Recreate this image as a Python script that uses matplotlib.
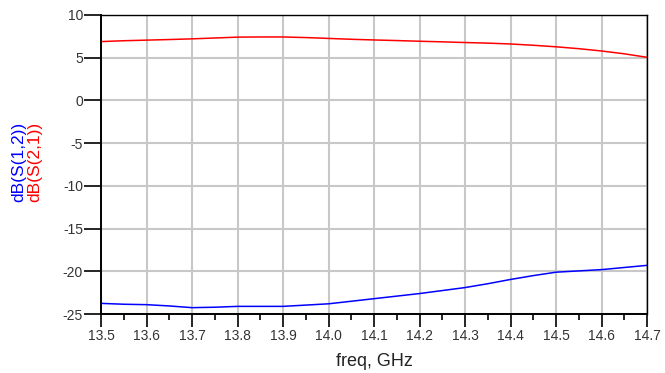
import matplotlib
matplotlib.use("Agg")
import matplotlib.pyplot as plt
from matplotlib.ticker import MultipleLocator

plt.rcParams['font.family'] = ['Liberation Sans', 'DejaVu Sans']
plt.rcParams['axes.unicode_minus'] = False

freq = [13.5, 13.55, 13.6, 13.65, 13.7, 13.75, 13.8, 13.85, 13.9, 13.95, 14.0,
        14.05, 14.1, 14.15, 14.2, 14.25, 14.3, 14.35, 14.4, 14.45, 14.5,
        14.55, 14.6, 14.65, 14.7]
s21 = [6.88, 6.98, 7.05, 7.12, 7.2, 7.3, 7.4, 7.42, 7.42, 7.35, 7.25,
       7.15, 7.07, 7.0, 6.92, 6.85, 6.77, 6.7, 6.6, 6.45, 6.27,
       6.05, 5.78, 5.45, 5.04]
s12 = [-23.75, -23.85, -23.9, -24.05, -24.25, -24.2, -24.1, -24.1, -24.1, -23.95, -23.8,
       -23.5, -23.2, -22.9, -22.6, -22.25, -21.9, -21.45, -20.95, -20.5, -20.1,
       -19.95, -19.8, -19.55, -19.3]

fig = plt.figure(figsize=(6.65, 3.73), dpi=100)
ax = fig.add_axes([0.1519, 0.158, 0.8211, 0.802])

ax.plot(freq, s21, color='#ff0000', lw=1.1)
ax.plot(freq, s12, color='#0000ff', lw=1.1)

ax.set_xlim(13.5, 14.7)
ax.set_ylim(-25, 10)
ax.xaxis.set_major_locator(MultipleLocator(0.1))
ax.xaxis.set_minor_locator(MultipleLocator(0.05))
ax.yaxis.set_major_locator(MultipleLocator(5))
ax.set_xticklabels([f"{v:.1f}" for v in ax.get_xticks()])
ax.grid(True, which='major', color='#c8c8c8', lw=1.5)
ax.set_axisbelow(True)

ax.tick_params(axis='x', which='major', direction='out', length=9, width=1.2,
               labelsize=10, pad=2, labelcolor='#333333')
ax.tick_params(axis='y', which='major', direction='out', length=12, width=1.2,
               labelsize=10, pad=1, labelcolor='#333333')
ax.tick_params(axis='x', which='minor', direction='out', length=4, width=1.2)
for side in ['left', 'bottom']:
    ax.spines[side].set_linewidth(1.4)
for side in ['top', 'right']:
    ax.spines[side].set_linewidth(1.0)

fig.text(0.5624, 1 - 362 / 373, 'freq, GHz', ha='center', va='center',
         fontsize=13, color='#222222')

fig.text(19 / 665, 0.566, 'dB(S(1,2))', color='#0000ff', rotation=90,
         ha='center', va='center', fontsize=12.5)
fig.text(35 / 665, 0.566, 'dB(S(2,1))', color='#ff0000', rotation=90,
         ha='center', va='center', fontsize=12.5)

fig.savefig('out.png', dpi=100)
